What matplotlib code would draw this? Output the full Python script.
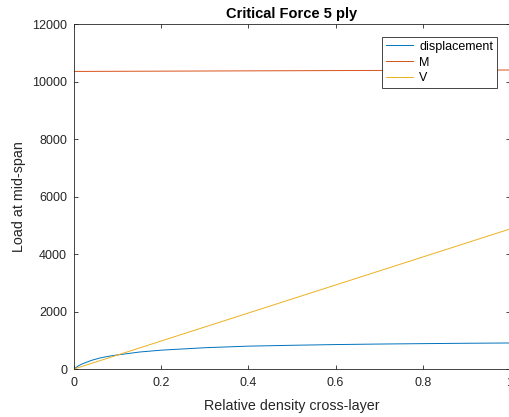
import matplotlib
matplotlib.use("Agg")
import matplotlib.pyplot as plt

plt.rcParams['font.family'] = ['Liberation Sans', 'DejaVu Sans']

x_disp = [0, 0.01, 0.02, 0.04, 0.06, 0.08, 0.1, 0.15, 0.2, 0.3, 0.4, 0.5, 0.6, 0.7, 0.8, 0.9, 1.0]
y_disp = [0, 110, 185, 300, 385, 445, 490, 590, 655, 740, 795, 825, 850, 868, 882, 895, 905]

x_lin = [0, 1.0]
y_M = [10350, 10400]
y_V = [0, 4870]

series_labels = ['displacement', 'M', 'V']
colors = ['#0072BD', '#D95319', '#EDB120']

fig = plt.figure(figsize=(5.09, 4.17), dpi=100)
ax = fig.add_axes([74/509, 1-369/417, 436/509, (369-24)/417])

ax.plot(x_disp, y_disp, color=colors[0], lw=0.7, label=series_labels[0])
ax.plot(x_lin, y_M, color=colors[1], lw=0.7, label=series_labels[1])
ax.plot(x_lin, y_V, color=colors[2], lw=0.7, label=series_labels[2])

ax.set_xlim(0, 1)
ax.set_ylim(0, 12000)
ax.set_xticks([0, 0.2, 0.4, 0.6, 0.8, 1.0])
ax.set_xticklabels(['0', '0.2', '0.4', '0.6', '0.8', '1'])
ax.set_yticks(range(0, 12001, 2000))

gray = '#262626'
for s in ax.spines.values():
    s.set_color(gray)
    s.set_linewidth(0.6)
ax.tick_params(direction='in', top=True, right=True, colors=gray, labelsize=9, length=3, width=0.6, labelcolor=gray)
ax.tick_params(axis='x', pad=6)
ax.tick_params(axis='y', pad=5)

ax.set_title('Critical Force 5 ply', fontsize=10.5, fontweight='bold', color='black', pad=4)
ax.set_xlabel('Relative density cross-layer', fontsize=10.3, color=gray, labelpad=7)
ax.set_ylabel('Load at mid-span', fontsize=10.3, color=gray, labelpad=4)

leg = ax.legend(loc='upper right', bbox_to_anchor=(497/509, 1-37/417), bbox_transform=fig.transFigure,
                fontsize=9, frameon=True, fancybox=False, framealpha=1, borderpad=0.3, labelspacing=0.3,
                handlelength=2.2, handletextpad=0.5, borderaxespad=0)
leg.get_frame().set_edgecolor(gray)
leg.get_frame().set_linewidth(0.6)

fig.savefig('out.png', dpi=100)
